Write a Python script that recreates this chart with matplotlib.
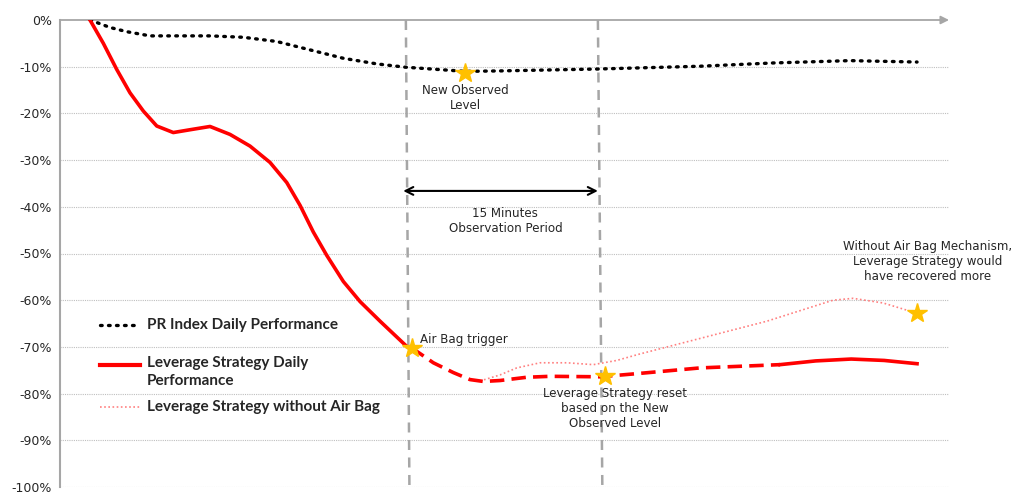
import matplotlib
matplotlib.use('Agg')
import matplotlib.pyplot as plt
from matplotlib.lines import Line2D

# x is a time index, 0..100 across the axis
pr_x = [3.37, 3.94, 5.62, 7.50, 10.12, 13.13, 16.87, 20.62, 24.37, 28.12, 31.87, 35.63,
        38.81, 45.56, 49.49, 60.40, 71.99, 80.20, 88.86, 96.4]
pr_y = [0, -0.4, -1.6, -2.5, -3.4, -3.4, -3.4, -3.7, -4.6, -6.4, -8.2, -9.4,
        -10.1, -11.0, -10.9, -10.5, -9.9, -9.2, -8.7, -9.0]

lev_x = [3.37, 4.87, 6.38, 7.87, 9.37, 10.88, 12.74, 14.62, 16.87, 19.12, 21.37, 23.62,
         25.50, 27.00, 28.49, 30.00, 31.87, 33.75, 36.00, 39.00, 39.56]
lev_y = [0, -5.0, -10.6, -15.6, -19.5, -22.7, -24.1, -23.5, -22.8, -24.5, -27.0, -30.5,
         -34.8, -39.7, -45.4, -50.4, -56.0, -60.3, -64.5, -69.9, -70.2]

reset_x = [39.56, 41.99, 44.24, 46.12, 47.62, 49.49, 52.50, 55.12, 60.74, 65.05, 71.99, 80.99]
reset_y = [-70.2, -73.4, -75.5, -77.0, -77.4, -77.2, -76.5, -76.3, -76.4, -75.7, -74.5, -73.8]

after_x = [80.99, 85.0, 89.0, 92.7, 96.4]
after_y = [-73.8, -73.0, -72.6, -72.9, -73.6]

noair_x = [47.24, 49.49, 51.37, 53.99, 57.0, 59.99, 62.62, 65.05, 68.3, 79.5, 86.95, 89.2, 92.6, 96.4]
noair_y = [-77.3, -76.0, -74.5, -73.4, -73.4, -73.8, -72.9, -71.6, -70.0, -64.5, -60.0, -59.6, -60.6, -62.8]

star_x = [45.6, 39.56, 61.3, 96.4]
star_y = [-11.3, -70.2, -76.3, -62.8]

vline_x = [(38.9, 39.3), (60.5, 61.0)]
yticks = list(range(0, -101, -10))

RED = '#FF0000'
PINK = '#FF8080'
GOLD = '#FFC000'
GREY = '#A6A6A6'
TXT = '#262626'

fig = plt.figure(figsize=(10.16, 4.95), dpi=100)
ax = fig.add_axes([0.0591, 8 / 495, 0.875, 467 / 495])
ax.set_xlim(0, 100)
ax.set_ylim(-100, 0)

#grid + axes look
ax.set_yticks(yticks)
ax.set_yticklabels([f'{v}%' for v in yticks], fontsize=9, color=TXT)
ax.tick_params(axis='y', length=0, pad=6)
ax.set_xticks([])
for v in yticks[1:]:
    ax.axhline(v, color='#BFBFBF', lw=0.8, ls=(0, (1, 1)), zorder=0)
for s in ['top', 'right', 'bottom']:
    ax.spines[s].set_visible(False)
ax.spines['left'].set_color(GREY)
ax.spines['left'].set_linewidth(1.5)
ax.annotate('', xy=(100, 0), xytext=(0, 0), annotation_clip=False,
            arrowprops=dict(arrowstyle='-|>', color=GREY, lw=1.3, mutation_scale=12,
                            shrinkA=0, shrinkB=0))

#dashed vertical markers
for xt, xb in vline_x:
    ax.plot([xt, xb], [0, -100], color=GREY, lw=1.8, ls=(0, (4, 3)), zorder=1, clip_on=False)

#series
ax.plot(pr_x, pr_y, color='black', lw=2.4, ls=(0, (0.5, 1.9)), dash_capstyle='round', zorder=3)
ax.plot(noair_x, noair_y, color=PINK, lw=1.2, ls=(0, (1, 1.5)), zorder=3)
ax.plot(lev_x, lev_y, color=RED, lw=2.6, zorder=4, solid_joinstyle='round')
ax.plot(reset_x, reset_y, color=RED, lw=2.6, ls=(0, (4, 2)), zorder=4)
ax.plot(after_x, after_y, color=RED, lw=2.6, zorder=4, solid_joinstyle='round')
ax.plot(star_x, star_y, ls='none', marker='*', ms=15, color=GOLD, mec=GOLD, zorder=5)

#double arrow for observation window
ax.annotate('', xy=(38.6, -36.6), xytext=(60.5, -36.6),
            arrowprops=dict(arrowstyle='<->', color='black', lw=1.5, mutation_scale=14,
                            shrinkA=0, shrinkB=0))

fs = 8.6
ax.text(45.6, -16.8, 'New Observed\nLevel', ha='center', va='center', fontsize=fs, color=TXT)
ax.text(50.1, -43.0, '15 Minutes\nObservation Period', ha='center', va='center', fontsize=fs, color=TXT)
ax.text(40.5, -68.5, 'Air Bag trigger', ha='left', va='center', fontsize=fs, color=TXT)
ax.text(62.4, -83.2, 'Leverage Strategy reset\nbased on the New\nObserved Level',
        ha='center', va='center', fontsize=fs, color=TXT)
ax.text(97.6, -51.7, 'Without Air Bag Mechanism,\nLeverage Strategy would\nhave recovered more',
        ha='center', va='center', fontsize=fs, color=TXT)

#legend drawn by hand so the spacing matches
leg = [
    ('PR Index Daily Performance', -65.3, -65.3, 'center',
     dict(color='black', lw=2.4, ls=(0, (0.5, 1.9)), dash_capstyle='round')),
    ('Leverage Strategy Daily\nPerformance', -73.9, -72.0, 'top', dict(color=RED, lw=3.0)),
    ('Leverage Strategy without Air Bag', -82.9, -82.9, 'center',
     dict(color=PINK, lw=1.2, ls=(0, (1, 1.5)))),
]
for label, yline, ytext, va, style in leg:
    ax.add_line(Line2D([4.5, 9.0], [yline, yline], **style))
    ax.text(9.8, ytext, label, ha='left', va=va,
            fontsize=11, fontweight='bold', family='Lato', color=TXT, linespacing=1.35)

fig.savefig('out.png', dpi=100)
